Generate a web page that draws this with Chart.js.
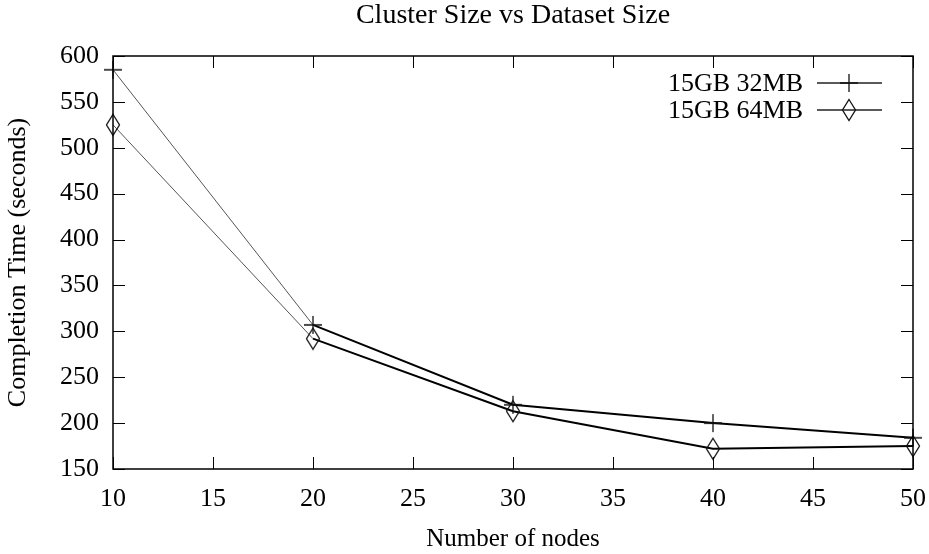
<!DOCTYPE html>
<html>
<head>
<meta charset="utf-8">
<script src="https://cdn.jsdelivr.net/npm/chart.js@4"></script>
<style>
    body { margin: 0; background: #fff; }
    #wrap { width: 929px; height: 554px; }
</style>
</head>
<body>
<div id="wrap"><canvas id="clusterChart"></canvas></div>
<script>
// values
const nodes = [10, 20, 30, 40, 50];
const time32MB = [585, 307, 220, 200, 184];
const time64MB = [525, 292, 213, 172, 175];
const seriesNames = ["15GB 32MB", "15GB 64MB"];
const xTicks = [10, 15, 20, 25, 30, 35, 40, 45, 50];
const yTicks = [150, 200, 250, 300, 350, 400, 450, 500, 550, 600];
const chartTitle = "Cluster Size vs Dataset Size";

const FONT = "'Liberation Serif', serif";

// gnuplot style markers
function plusMarker() {
    const c = document.createElement("canvas");
    c.width = 20; c.height = 20;
    const g = c.getContext("2d");
    g.strokeStyle = "#111";
    g.lineWidth = 1.3;
    g.beginPath();
    g.moveTo(1, 10); g.lineTo(19, 10);
    g.moveTo(10, 1); g.lineTo(10, 19);
    g.stroke();
    return c;
}

function diamondMarker() {
    const c = document.createElement("canvas");
    c.width = 16; c.height = 24;
    const g = c.getContext("2d");
    g.strokeStyle = "#111";
    g.lineWidth = 1.3;
    g.beginPath();
    g.moveTo(8, 1.5); g.lineTo(14.5, 12); g.lineTo(8, 22.5); g.lineTo(1.5, 12);
    g.closePath();
    g.stroke();
    return c;
}

const markers = [plusMarker(), diamondMarker()];

function toPoints(values) {
    return nodes.map((n, i) => ({ x: n, y: values[i] }));
}

// title over the plot, border, inward ticks on all sides, legend inside the plot
const framePlugin = {
    id: "frame",
    afterDatasetsDraw(chart) {
        const ctx = chart.ctx;
        const a = chart.chartArea;
        const xs = chart.scales.x;
        const ys = chart.scales.y;
        const len = 12;
        ctx.save();

        ctx.font = "28px " + FONT;
        ctx.textAlign = "center";
        ctx.textBaseline = "middle";
        ctx.fillStyle = "#000";
        ctx.fillText(chartTitle, (a.left + a.right) / 2, 16);

        ctx.strokeStyle = "#000";
        ctx.lineWidth = 1.5;
        ctx.strokeRect(a.left, a.top, a.right - a.left, a.bottom - a.top);
        ctx.lineWidth = 1;
        ctx.beginPath();
        xTicks.forEach(function (t) {
            const px = Math.round(xs.getPixelForValue(t)) + 0.5;
            ctx.moveTo(px, a.bottom); ctx.lineTo(px, a.bottom - len);
            ctx.moveTo(px, a.top); ctx.lineTo(px, a.top + len);
        });
        yTicks.forEach(function (t) {
            const py = Math.round(ys.getPixelForValue(t)) + 0.5;
            ctx.moveTo(a.left, py); ctx.lineTo(a.left + len, py);
            ctx.moveTo(a.right, py); ctx.lineTo(a.right - len, py);
        });
        ctx.stroke();

        // legend
        ctx.font = "26px " + FONT;
        ctx.textAlign = "right";
        chart.data.datasets.forEach(function (ds, i) {
            const y = a.top + 27 + i * 27;
            ctx.fillText(ds.label, a.right - 110, y + 1);
            ctx.strokeStyle = "#222";
            ctx.lineWidth = 1.5;
            ctx.beginPath();
            ctx.moveTo(a.right - 96, y);
            ctx.lineTo(a.right - 31, y);
            ctx.stroke();
            const m = markers[i];
            ctx.drawImage(m, a.right - 64 - m.width / 2, y - m.height / 2);
        });
        ctx.restore();
    }
};

const chartCanvas = document.getElementById("clusterChart").getContext("2d");

const clusterChart = new Chart(chartCanvas, {
    type: "line",
    data: {
        datasets: [time32MB, time64MB].map((values, i) => ({
            label: seriesNames[i],
            data: toPoints(values),
            borderColor: "#000",
            borderWidth: 2,
            pointStyle: markers[i],
            pointRadius: 8,
            fill: false,
            clip: false,
            tension: 0,
            segment: {
                // first segment is drawn thin and grey in the original
                borderWidth: (c) => (c.p0DataIndex === 0 ? 1 : 2),
                borderColor: (c) => (c.p0DataIndex === 0 ? "#555" : "#000"),
            },
        })),
    },
    plugins: [framePlugin],
    options: {
        responsive: true,
        maintainAspectRatio: false,
        animation: false,
        layout: { padding: { top: 56, right: 16, left: 0, bottom: 0 } },
        plugins: {
            legend: { display: false },
            tooltip: { enabled: false },
            title: { display: false },
        },
        scales: {
            x: {
                type: "linear",
                min: 10,
                max: 50,
                afterBuildTicks: (s) => { s.ticks = xTicks.map((v) => ({ value: v })); },
                afterFit: (s) => { s.height = 85; s.paddingLeft = 0; s.paddingRight = 0; },
                grid: { display: false },
                border: { display: false },
                ticks: {
                    color: "#000",
                    padding: 7,
                    maxRotation: 0,
                    font: { family: FONT, size: 26 },
                },
                title: {
                    display: true,
                    text: "Number of nodes",
                    color: "#000",
                    padding: { top: 0, bottom: 0 },
                    font: { family: FONT, size: 25, lineHeight: 1.2 },
                },
            },
            y: {
                min: 150,
                max: 600,
                afterBuildTicks: (s) => { s.ticks = yTicks.map((v) => ({ value: v })); },
                afterFit: (s) => { s.width = 113; s.paddingTop = 0; s.paddingBottom = 0; },
                grid: { display: false },
                border: { display: false },
                ticks: {
                    color: "#000",
                    padding: 6,
                    font: { family: FONT, size: 26 },
                },
                title: {
                    display: true,
                    text: "Completion Time (seconds)",
                    color: "#000",
                    padding: { top: 3, bottom: 0 },
                    font: { family: FONT, size: 26, lineHeight: 1.2 },
                },
            },
        },
    },
});
</script>
</body>
</html>
